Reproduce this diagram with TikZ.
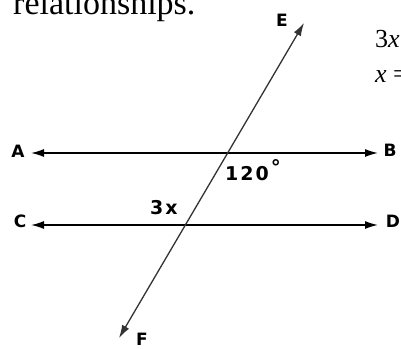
\documentclass[tikz,border=0pt]{standalone}
\usepackage{fontspec}
\setmainfont{Liberation Serif}
\newfontfamily\lblfont{DejaVu Sans}
\usetikzlibrary{arrows.meta}

\begin{document}
\begin{tikzpicture}[x=1pt,y=-1pt,
  lbl/.style={font=\lblfont\bfseries\fontsize{17}{17}\selectfont},
  num/.style={font=\lblfont\bfseries\fontsize{19}{19}\selectfont,anchor=base west,inner sep=0pt},
  txt/.style={anchor=base west,inner sep=0pt},
  ray/.style={{Latex[length=13pt,width=8pt]}-{Latex[length=13pt,width=8pt]},line width=1.4pt}]
\useasboundingbox (0,0) rectangle (401,348);
\clip (0,0) rectangle (401,348);
\coordinate (a) at (31,153); \coordinate (b) at (378,153);
\coordinate (c) at (31,225); \coordinate (d) at (378,225);
\coordinate (e) at (304,23); \coordinate (f) at (119,338);
\draw[ray] (a)--(b);
\draw[ray] (c)--(d);
\draw[ray,line width=1.3pt,black!80] (f)--(e);
\node[lbl] (A) at (18,151) {A}; \node[lbl] (B) at (390,150) {B};
\node[lbl] (C) at (20,221) {C}; \node[lbl] (D) at (393,221) {D};
\node[lbl] (E) at (282,20) {E}; \node[lbl] (F) at (142,339) {F};
\node[num] (deg) at (225,180) {1\kern2pt2\kern2pt0\kern2pt{\fontsize{20}{20}\selectfont\raisebox{6pt}{°}}};
\node[num] (thx) at (150,214) {3\kern2pt x};
\node[txt,font=\fontsize{34}{34}\selectfont] (head) at (13,14) {relationships.};
\node[txt,font=\fontsize{26}{26}\selectfont] (eqa) at (375,47) {3\textit{x}};
\node[txt,font=\fontsize{26}{26}\selectfont] (eqb) at (375,82) {\textit{x} =};
\end{tikzpicture}
\end{document}
